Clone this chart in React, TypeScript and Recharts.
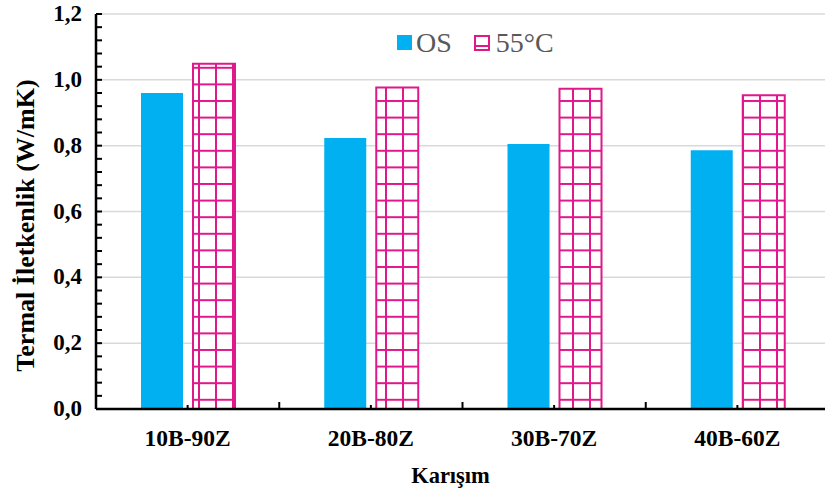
import React from 'react';
import { BarChart, Bar, XAxis, YAxis, CartesianGrid } from 'recharts';

const categories = ['10B-90Z', '20B-80Z', '30B-70Z', '40B-60Z'];
const osValues = [0.96, 0.823, 0.805, 0.786];
const c55Values = [1.049, 0.977, 0.973, 0.953];
const yMajorTicks = [0, 0.2, 0.4, 0.6, 0.8, 1.0, 1.2];
const yMinorStep = 0.04;

const data = categories.map((name, i) => ({ name, os: osValues[i], c55: c55Values[i] }));
const yTicks = Array.from({ length: Math.round(1.2 / yMinorStep) + 1 }, (_, i) => +(i * yMinorStep).toFixed(2));

const FONT = "'Times New Roman', 'Liberation Serif', serif";
const BLUE = '#00B0F0';
const MAGENTA = '#E0198A';

const CHART_W = 829;
const CHART_H = 492;
const AXIS_X = 96;
const AXIS_Y = 409;
const BAND = (CHART_W - AXIS_X) / categories.length;

const YTick = (props: any) => {
  const { y, payload } = props;
  const v = payload.value;
  const major = yMajorTicks.some((t) => Math.abs(t - v) < 1e-6);
  return (
    <g>
      <line x1={AXIS_X} x2={AXIS_X + 6} y1={y} y2={y} stroke="#000" strokeWidth={2} />
      {major && (
        <text x={82} y={y + 7} textAnchor="end" fontFamily={FONT} fontWeight="bold" fontSize={23} fill="#000">
          {v.toFixed(1).replace('.', ',')}
        </text>
      )}
    </g>
  );
};

const XTick = (props: any) => {
  const { x, payload, index } = props;
  const last = index === categories.length - 1;
  return (
    <g>
      <line x1={x} x2={x} y1={AXIS_Y} y2={AXIS_Y - 4} stroke="#000" strokeWidth={2} />
      {!last && <line x1={x + BAND / 2} x2={x + BAND / 2} y1={AXIS_Y} y2={AXIS_Y - 7} stroke="#000" strokeWidth={2} />}
      <text x={x} y={446} textAnchor="middle" fontFamily={FONT} fontWeight="bold" fontSize={23.5} fill="#000">
        {payload.value}
      </text>
    </g>
  );
};

const LegendBox = () => (
  <div style={{ position: 'absolute', left: 397, top: 26, display: 'flex', alignItems: 'center', fontFamily: FONT, fontSize: 28, color: '#595959', lineHeight: '34px' }}>
    <svg width={16} height={16} style={{ marginRight: 3 }}>
      <rect x={0} y={0} width={15} height={15} fill={BLUE} />
    </svg>
    <span style={{ marginRight: 22 }}>OS</span>
    <svg width={17} height={17} style={{ marginRight: 5 }}>
      <rect x={1} y={1} width={14} height={14} fill="#fff" stroke={MAGENTA} strokeWidth={2} />
      <line x1={1} x2={15} y1={11} y2={11} stroke={MAGENTA} strokeWidth={2} />
    </svg>
    <span>55°C</span>
  </div>
);

export default function App() {
  return (
    <div style={{ position: 'absolute', left: 0, top: 0, width: 825, height: 492, overflow: 'hidden', background: '#fff' }}>
      <svg width={0} height={0} style={{ position: 'absolute' }}>
        <defs>
          <pattern id="hatch55" patternUnits="userSpaceOnUse" x={11} y={0.4} width={17} height={16.6}>
            <rect x={0} y={0} width={17} height={16.6} fill="#fff" />
            <line x1={1} x2={1} y1={0} y2={16.6} stroke={MAGENTA} strokeWidth={2} />
            <line x1={0} x2={17} y1={1} y2={1} stroke={MAGENTA} strokeWidth={2} />
          </pattern>
        </defs>
      </svg>
      <BarChart
        width={CHART_W}
        height={CHART_H}
        data={data}
        margin={{ top: 14, right: 0, left: 0, bottom: 0 }}
        barGap={10}
        barCategoryGap="24%"
      >
        <CartesianGrid vertical={false} horizontalValues={[0.2, 0.4, 0.6, 0.8, 1.0, 1.2]} stroke="#D9D9D9" strokeWidth={1.5} />
        <XAxis
          dataKey="name"
          height={CHART_H - AXIS_Y}
          axisLine={{ stroke: '#000', strokeWidth: 2.5 }}
          tickLine={false}
          tick={<XTick />}
          interval={0}
          label={{ value: 'Karışım', position: 'insideBottom', offset: 9, dx: -12, fontFamily: FONT, fontWeight: 'bold', fontSize: 22.5, fill: '#000' }}
        />
        <YAxis
          width={AXIS_X}
          domain={[0, 1.2]}
          ticks={yTicks}
          interval={0}
          axisLine={{ stroke: '#000', strokeWidth: 2.5 }}
          tickLine={false}
          tick={<YTick />}
          label={{ value: 'Termal İletkenlik (W/mK)', angle: -90, position: 'insideLeft', dx: 20, dy: 14, style: { textAnchor: 'middle' }, fontFamily: FONT, fontWeight: 'bold', fontSize: 26, fill: '#000' }}
        />
        <Bar dataKey="os" name="OS" fill={BLUE} barSize={42} isAnimationActive={false} />
        <Bar dataKey="c55" name="55°C" fill="url(#hatch55)" stroke={MAGENTA} strokeWidth={2} barSize={42} isAnimationActive={false} />
      </BarChart>
      <LegendBox />
    </div>
  );
}
